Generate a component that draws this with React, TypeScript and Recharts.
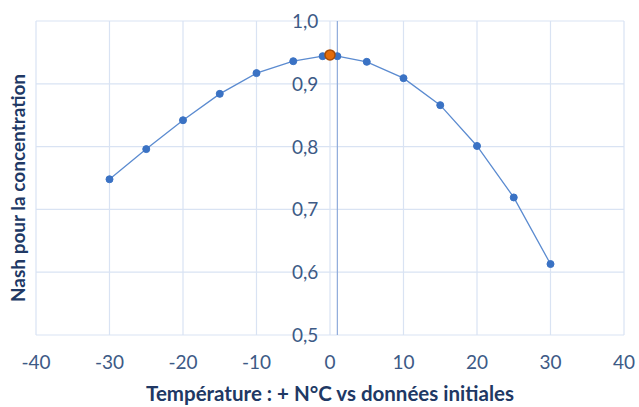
import React from 'react';
import { ComposedChart, Line, Scatter, XAxis, YAxis, CartesianGrid, ReferenceLine } from 'recharts';

// Température offset (°C) vs Nash
const temperatures = [-30, -25, -20, -15, -10, -5, -1, 0, 1, 5, 10, 15, 20, 25, 30];
const nashValues = [0.748, 0.796, 0.842, 0.884, 0.917, 0.936, 0.944, 0.946, 0.944, 0.935, 0.909, 0.866, 0.801, 0.719, 0.613];
const initialPoint = [{ x: 0, y: 0.946 }];

const xTicks = [-40, -30, -20, -10, 0, 10, 20, 30, 40];
const yTicks = [0.5, 0.6, 0.7, 0.8, 0.9, 1.0];

const seriesData = temperatures.map((t, i) => ({ x: t, y: nashValues[i] }));

const W = 639;
const H = 407;
const Y_AXIS_W = 1;
const M = { top: 21, right: 15, left: 35, bottom: 0 };
const X_AXIS_H = 72;
const X_MIN = -40;
const X_MAX = 40;
const AXIS_CROSS = 1;
const PLOT_LEFT = M.left + Y_AXIS_W;
const PLOT_W = W - PLOT_LEFT - M.right;
const AXIS_PX = PLOT_LEFT + ((AXIS_CROSS - X_MIN) / (X_MAX - X_MIN)) * PLOT_W;

const FONT = 'Lato, "Open Sans", sans-serif';
const TICK_COLOR = '#3d5a86';
const TITLE_COLOR = '#203864';

const fmt = (v: number) => v.toFixed(1).replace('.', ',');

const renderYTick = (props: any) => {
  const { y, payload } = props;
  return (
    <text x={AXIS_PX - 19} y={y} dy={7} textAnchor="end" fill={TICK_COLOR} fontSize={19} fontFamily={FONT}>
      {fmt(payload.value)}
    </text>
  );
};

export default function App() {
  return (
    <div style={{ position: 'absolute', left: 0, top: 0, width: W, height: H, background: '#fff' }}>
      <ComposedChart width={W} height={H} margin={M}>
        <CartesianGrid stroke="#d9e3f3" strokeWidth={1.2} />
        <XAxis
          type="number"
          dataKey="x"
          domain={[X_MIN, X_MAX]}
          ticks={xTicks}
          allowDataOverflow
          height={X_AXIS_H}
          axisLine={false}
          tickLine={false}
          tickMargin={15}
          tick={{ fill: TICK_COLOR, fontSize: 19, fontFamily: FONT }}
          label={{
            value: 'Température : + N°C vs données initiales',
            position: 'insideBottom',
            offset: 6,
            fill: TITLE_COLOR,
            fontSize: 20.5,
            fontWeight: 700,
            fontFamily: FONT,
          }}
        />
        <YAxis
          type="number"
          dataKey="y"
          domain={[0.5, 1.0]}
          ticks={yTicks}
          interval={0}
          allowDataOverflow
          width={Y_AXIS_W}
          axisLine={false}
          tickLine={false}
          tick={renderYTick}
        />
        <ReferenceLine x={AXIS_CROSS} stroke="#8eaadb" strokeWidth={1.2} />
        <Line
          data={seriesData}
          dataKey="y"
          type="linear"
          stroke="#5b8bd0"
          strokeWidth={1.3}
          dot={{ r: 3.5, fill: '#3a72c4', stroke: '#3a72c4', strokeWidth: 1 }}
          activeDot={false}
          isAnimationActive={false}
        />
        <Scatter
          data={initialPoint}
          dataKey="y"
          fill="#e46c0a"
          shape={(p: any) => <circle cx={p.cx} cy={p.cy} r={5} fill="#e46c0a" stroke="#a84d08" strokeWidth={1.5} />}
          isAnimationActive={false}
        />
      </ComposedChart>
      <div
        style={{
          position: 'absolute',
          left: 17,
          top: 188,
          transform: 'translate(-50%, -50%) rotate(-90deg)',
          whiteSpace: 'nowrap',
          color: TITLE_COLOR,
          fontFamily: FONT,
          fontWeight: 700,
          fontSize: 19,
        }}
      >
        Nash pour la concentration
      </div>
    </div>
  );
}
